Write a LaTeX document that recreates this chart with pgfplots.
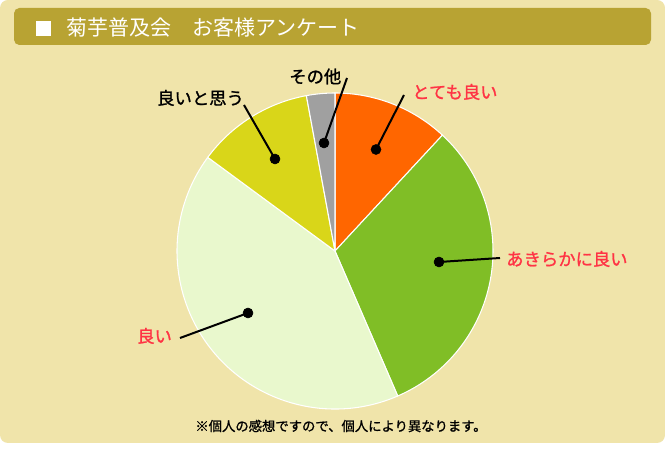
\documentclass[border=0pt]{standalone}
\usepackage{pgfplots}
\pgfplotsset{compat=1.18}
\usepackage{pgfplotstable}
\usepackage{fontspec}
\setmainfont{Noto Sans CJK JP}
\newfontfamily\labfont{Noto Sans CJK JP}[FakeBold=1.2]
\definecolor{bgcol}{HTML}{F0E4AA}
\definecolor{titlecol}{HTML}{B8A333}
\definecolor{cA}{HTML}{FF6600}
\definecolor{cB}{HTML}{80BE26}
\definecolor{cC}{HTML}{E9F8CD}
\definecolor{cD}{HTML}{D9D619}
\definecolor{cE}{HTML}{A0A0A0}
\definecolor{redtxt}{HTML}{FF3344}

\pgfplotstableread{
idx v
0 11.9
1 31.6
2 41.6
3 12.0
4 2.9
}\pietable

\newcommand\pieslice[2]{%
  \fill[#2, draw=white, line width=0.8pt] (axis cs:335,206) -- ++(\csname pieS#1\endcsname:118.5pt)
    arc[start angle=\csname pieS#1\endcsname, end angle=\csname pieE#1\endcsname, radius=118.5pt] -- cycle;}

\begin{document}%
\begin{tikzpicture}
\def\cum{0}%
\pgfplotsforeachungrouped \i in {0,...,4}{%
  \pgfplotstablegetelem{\i}{v}\of\pietable%
  \pgfmathsetmacro\start{90-3.6*\cum}%
  \pgfmathsetmacro\cum{\cum+\pgfplotsretval}%
  \pgfmathsetmacro\stop{90-3.6*\cum}%
  \expandafter\xdef\csname pieS\i\endcsname{\start}%
  \expandafter\xdef\csname pieE\i\endcsname{\stop}%
}%
\begin{axis}[x=0.75pt, y=0.75pt, xmin=0, xmax=665, ymin=0, ymax=457,
  hide axis, scale only axis, clip=false]
% background
\fill[white] (axis cs:0,0) rectangle (axis cs:665,457);
\fill[bgcol, rounded corners=6pt] (axis cs:0,14) rectangle (axis cs:665,457);
\fill[titlecol, rounded corners=4pt] (axis cs:14,412) rectangle (axis cs:651,449);
\fill[white] (axis cs:36,421) rectangle (axis cs:51,436);
\node[anchor=west, inner sep=0pt, text=white, font=\fontsize{15.75pt}{18pt}\selectfont] at (axis cs:66,429) {菊芋普及会　お客様アンケート};
% pie
\pieslice{0}{cA}
\pieslice{1}{cB}
\pieslice{2}{cC}
\pieslice{3}{cD}
\pieslice{4}{cE}
% leader lines
\draw[black, line width=1.5pt] (axis cs:376,307.5) -- (axis cs:404,362);
\draw[black, line width=1.5pt] (axis cs:324,314) -- (axis cs:347,379);
\draw[black, line width=1.5pt] (axis cs:275,298) -- (axis cs:244,352);
\draw[black, line width=1.5pt] (axis cs:439,195) -- (axis cs:500,199);
\draw[black, line width=1.5pt] (axis cs:248,144) -- (axis cs:180,119);
\addplot[only marks, mark=*, mark size=3.75pt, black] coordinates {(376,307.5) (324,314) (275,298) (439,195) (248,144)};
% labels
\node[anchor=west, inner sep=0pt, text=redtxt, font=\labfont\fontsize{13pt}{15pt}\selectfont] at (axis cs:412,365) {とても良い};
\node[anchor=west, inner sep=0pt, text=black, font=\labfont\fontsize{13pt}{15pt}\selectfont] at (axis cs:289,380.5) {その他};
\node[anchor=west, inner sep=0pt, text=black, font=\labfont\fontsize{13pt}{15pt}\selectfont] at (axis cs:157,359) {良いと思う};
\node[anchor=west, inner sep=0pt, text=redtxt, font=\labfont\fontsize{13pt}{15pt}\selectfont] at (axis cs:506,198) {あきらかに良い};
\node[anchor=west, inner sep=0pt, text=redtxt, font=\labfont\fontsize{13pt}{15pt}\selectfont] at (axis cs:137,121) {良い};
\node[anchor=center, inner sep=0pt, text=black, font=\labfont\fontsize{10pt}{12pt}\selectfont] at (axis cs:341,31) {※個人の感想ですので、個人により異なります。};
\end{axis}
\end{tikzpicture}%
\end{document}
